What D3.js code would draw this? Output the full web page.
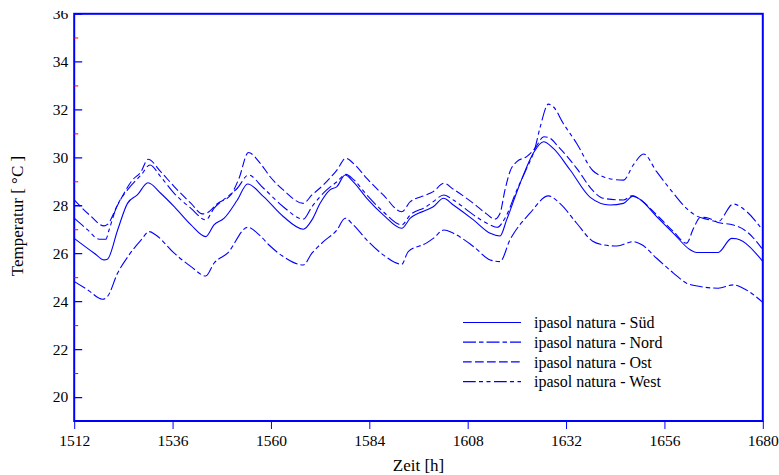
<!DOCTYPE html>
<html>
<head>
<meta charset="utf-8">
<script src="https://cdn.jsdelivr.net/npm/d3@7"></script>
<style>
  body { margin: 0; background: #fff; }
  svg text { font-family: "Liberation Serif", "Times New Roman", serif; fill: #000; }
</style>
</head>
<body>
<div id="chart"></div>
<script>
    // Stunde, Temperatur [°C]
    var sued = [[1512,26.62],[1516.9,26.0],[1519.3,25.72],[1520.1,25.75],[1522.6,26.97],[1525,28.08],[1527.4,28.43],[1530,28.94],[1533.1,28.5],[1536.4,27.94],[1540.5,27.18],[1544.1,26.69],[1546.1,27.18],[1548.6,27.46],[1551.8,28.22],[1554.3,28.89],[1558.2,28.36],[1563,27.53],[1567.9,27.0],[1570,27.39],[1572,28.08],[1574.4,28.64],[1576.1,28.78],[1578.1,29.26],[1580.1,28.98],[1583.4,28.29],[1587.4,27.6],[1591.9,27.04],[1594,27.46],[1597.9,27.8],[1599.6,27.94],[1602.1,28.29],[1604.5,28.01],[1609.4,27.39],[1613.5,26.83],[1615.9,26.72],[1617.5,27.39],[1620.8,28.92],[1624,30.17],[1626.5,30.65],[1628.9,30.37],[1633,29.47],[1637.9,28.33],[1642.7,28.01],[1646,28.08],[1648.4,28.39],[1650,28.25],[1654.1,27.53],[1658.2,26.83],[1662.3,26.14],[1663.9,26.03],[1669.1,26.03],[1672.4,26.62],[1673.6,26.6],[1680,25.66]];

    var nord = [[1512,24.82],[1515.3,24.47],[1518.9,24.08],[1520.1,24.19],[1522.6,25.17],[1525.4,25.93],[1528.3,26.55],[1530.3,26.9],[1531.9,26.76],[1536.4,26.0],[1540.5,25.44],[1544.1,25.05],[1546.1,25.58],[1549.4,26.0],[1554.3,27.08],[1557.4,26.72],[1559.8,26.3],[1563,25.86],[1567.9,25.51],[1570,26.0],[1572.8,26.48],[1576.1,26.97],[1578.1,27.46],[1580.1,27.18],[1583.4,26.55],[1587.4,25.93],[1591.9,25.54],[1593.5,26.07],[1597.9,26.42],[1599.6,26.62],[1602.2,26.97],[1604.5,26.83],[1609.4,26.28],[1613.5,25.72],[1615.9,25.65],[1618.3,26.55],[1623.2,27.67],[1627.7,28.39],[1630.5,28.08],[1634.6,27.25],[1638.5,26.5],[1641.1,26.35],[1644.4,26.3],[1648.4,26.48],[1650.5,26.35],[1654.1,25.79],[1658.2,25.17],[1661.4,24.75],[1664.7,24.61],[1669.1,24.54],[1672.8,24.68],[1675.2,24.54],[1680,23.95]];

    var ost = [[1512,28.22],[1515.7,27.6],[1519.3,27.14],[1520.1,27.2],[1522.6,28.01],[1526.2,29.05],[1528.3,29.4],[1530,29.92],[1533.1,29.4],[1536.4,28.78],[1540.5,28.08],[1543.3,27.64],[1544.5,27.69],[1547,28.08],[1550.2,28.43],[1552.2,29.12],[1554.5,30.2],[1557.4,29.75],[1559.8,29.19],[1563,28.64],[1567.9,28.08],[1570,28.43],[1572.8,28.85],[1576.1,29.47],[1578.3,29.96],[1580.1,29.75],[1583.4,29.12],[1587.4,28.43],[1591.9,27.73],[1594,28.15],[1597.9,28.43],[1599.6,28.57],[1602.2,28.92],[1604.5,28.67],[1609.4,28.08],[1612.6,27.64],[1614.6,27.42],[1615.9,27.67],[1617.1,28.64],[1618.3,29.4],[1620,29.82],[1622.4,30.03],[1624.4,30.37],[1626.6,30.86],[1627.7,30.83],[1630.5,30.37],[1634.6,29.54],[1638.5,28.62],[1641.1,28.29],[1646,28.22],[1648,28.39],[1649.6,28.29],[1654.1,27.6],[1658.2,26.9],[1661.4,26.42],[1663.1,27.04],[1664.8,27.5],[1666.8,27.46],[1669.1,27.28],[1672.8,27.18],[1676.1,26.9],[1680,26.15]];

    var west = [[1512,27.46],[1515.3,26.97],[1518.1,26.58],[1519.7,26.58],[1520.5,26.97],[1522.2,27.87],[1525,28.64],[1528.3,29.26],[1530.5,29.68],[1533.1,29.19],[1536.4,28.5],[1540.5,27.87],[1544.1,27.39],[1546.1,27.87],[1549.4,28.36],[1551.8,28.71],[1554.5,29.26],[1558.2,28.71],[1563,27.94],[1567.9,27.42],[1570,27.94],[1573.6,28.64],[1576.1,28.98],[1578.3,29.29],[1580.1,29.08],[1583.4,28.43],[1587.4,27.73],[1591.9,27.18],[1594,27.6],[1597.9,27.94],[1599.6,28.15],[1602.2,28.43],[1604.5,28.22],[1609.4,27.6],[1613.5,27.18],[1615.2,27.08],[1617.1,27.46],[1620,28.64],[1622.4,29.54],[1624.4,30.37],[1625.7,31.27],[1627.7,32.22],[1628.9,32.11],[1631.3,31.42],[1634.6,30.58],[1638.5,29.45],[1641.1,29.19],[1643.5,29.08],[1646,29.05],[1648.4,29.68],[1650.9,30.14],[1654.1,29.4],[1658.2,28.5],[1661.4,27.87],[1663.9,27.55],[1666.3,27.42],[1669.1,27.32],[1672.8,28.05],[1676.1,27.73],[1680,26.95]];

    var seriesNames = ["ipasol natura - Süd", "ipasol natura - Nord", "ipasol natura - Ost", "ipasol natura - West"];
    var xTicks = [1512, 1536, 1560, 1584, 1608, 1632, 1656, 1680];
    var yTicks = [20, 22, 24, 26, 28, 30, 32, 34, 36];
    var yMinor = [21, 23, 25, 27, 29, 31, 33, 35];

    var width = 779,
        height = 475;

    var series = [sued, nord, ost, west];
    var dashes = [null, "13,3,4.5,3", "8.7,3.3", "12.7,3.3,4,3.5,4,3.5"];

    var svg = d3.select("#chart")
            .append("svg")
            .attr("width", width)
            .attr("height", height);

    var x = d3.scaleLinear().domain([1512, 1680]).range([74.2, 762.8]);
    var y = d3.scaleLinear().domain([19, 36]).range([421, 13.5]);

    var line = d3.line()
        .x(function(d) { return x(d[0]); })
        .y(function(d) { return y(d[1]); })
        .curve(d3.curveMonotoneX);

    // kurven
    svg.selectAll(".kurve")
        .data(series)
        .enter().append("path")
        .attr("class", "kurve")
        .attr("d", line)
        .attr("fill", "none")
        .attr("stroke", "#0000ff")
        .attr("stroke-width", 1.1)
        .attr("stroke-dasharray", function(d, i) { return dashes[i]; });

    // rahmen
    svg.append("rect")
        .attr("x", x(1512))
        .attr("y", y(36) + 0.3)
        .attr("width", x(1680) - x(1512))
        .attr("height", y(19) - y(36) - 0.3)
        .attr("fill", "none")
        .attr("stroke", "#0000ff")
        .attr("stroke-width", 2);

    // oberer rand schneidet die 36 ab
    svg.append("clipPath").attr("id", "yclip")
        .append("rect").attr("x", -80).attr("y", 11).attr("width", 200).attr("height", 470);

    // y achse
    var yAxis = svg.append("g")
        .attr("transform", "translate(" + x(1512) + ",0)")
        .attr("clip-path", "url(#yclip)")
        .call(d3.axisLeft(y).tickValues(yTicks).tickSize(-8).tickPadding(6).tickFormat(d3.format("d")));
    yAxis.select(".domain").remove();
    yAxis.selectAll("line").attr("stroke", "#0000ff").attr("stroke-width", 1.3);
    yAxis.selectAll("text").style("font-size", "15.5px");

    var yAxisMinor = svg.append("g")
        .attr("transform", "translate(" + x(1512) + ",0)")
        .call(d3.axisLeft(y).tickValues(yMinor).tickSize(-4).tickFormat(""));
    yAxisMinor.select(".domain").remove();
    yAxisMinor.selectAll("line").attr("stroke", "#ff0000").attr("stroke-width", 1);

    // x achse
    var xAxis = svg.append("g")
        .attr("transform", "translate(0," + y(19) + ")")
        .call(d3.axisBottom(x).tickValues(xTicks).tickSize(8).tickPadding(6).tickFormat(d3.format("d")));
    xAxis.select(".domain").remove();
    xAxis.selectAll("line").attr("stroke", "#0000ff").attr("stroke-width", 1);
    xAxis.selectAll("text").style("font-size", "15.5px");

    svg.append("text")
        .attr("x", (x(1512) + x(1680)) / 2)
        .attr("y", 471)
        .attr("text-anchor", "middle")
        .style("font-size", "17px")
        .text("Zeit [h]");

    svg.append("text")
        .attr("transform", "translate(23," + 216 + ") rotate(-90)")
        .attr("text-anchor", "middle")
        .style("font-size", "17px")
        .text("Temperatur [ °C ]");

    // legende
    var legend = svg.selectAll(".legend")
        .data(seriesNames)
        .enter().append("g")
          .attr("class", "legend")
          .attr("transform", function(d, i) { return "translate(463," + (322.5 + i * 19.7) + ")"; });

    legend.append("line")
        .attr("x1", 0)
        .attr("x2", 58)
        .attr("stroke", "#0000ff")
        .attr("stroke-width", 1.2)
        .attr("stroke-dasharray", function(d, i) { return dashes[i]; });

    legend.append("text")
        .attr("x", 71)
        .attr("dy", ".35em")
        .style("font-size", "16px")
        .text(function(d) { return d; });
</script>
</body>
</html>
